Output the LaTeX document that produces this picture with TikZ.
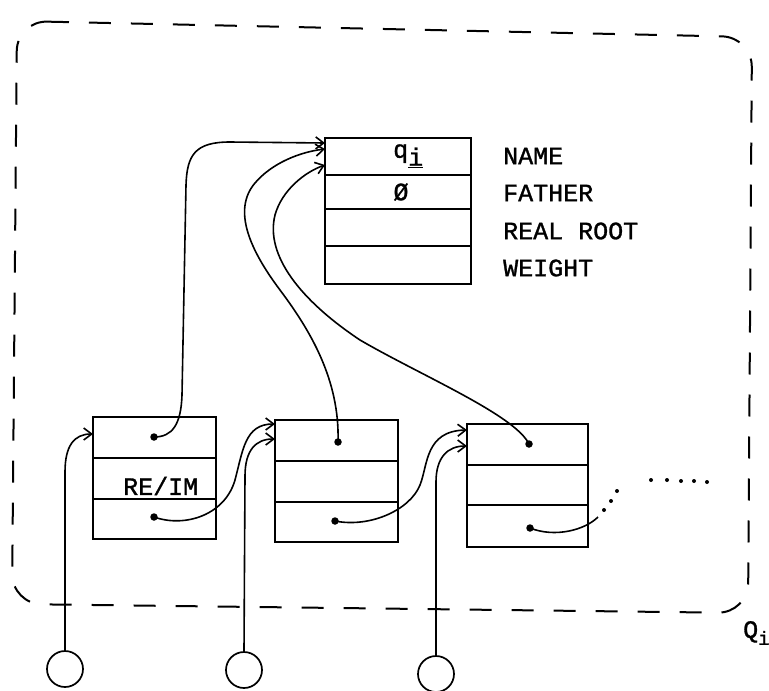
\documentclass[tikz,border=0pt]{standalone}
\usepackage{fontspec}
\setmonofont{Liberation Mono}[FakeBold=1.2]
\usetikzlibrary{arrows.meta,calc}
\begin{document}
\begin{tikzpicture}[x=1pt,y=-1pt,
  rowbox/.style={draw,line width=1.8pt,inner sep=0pt,outer sep=0pt,anchor=north west},
  conn/.style={line width=1.6pt},
  arr/.style={conn,-{Straight Barb[length=8pt,width=12pt]}},
  pdot/.style={circle,fill,inner sep=0pt,minimum size=7.5pt},
  sdot/.style={circle,fill,inner sep=0pt,minimum size=4pt},
  ring/.style={circle,draw,line width=1.7pt,minimum size=36pt,inner sep=0pt},
  lbl/.style={font=\ttfamily\fontsize{25}{30}\selectfont,inner sep=0pt},
  border/.style={line width=2pt,dash pattern=on 22pt off 20pt}]
\useasboundingbox (0,0) rectangle (769,691);

% dashed enclosure Q_i
\draw[border,rounded corners=30pt] (17,21) -- (752,37) -- (748,613) -- (12,604) -- cycle;
\node[lbl,anchor=west] (qlab) at (743,633) {Q\raisebox{-7pt}{\fontsize{19}{22}\selectfont i}};

% top record
\node[rowbox,minimum width=146pt,minimum height=37pt] (t1) at (325,138) {};
\node[rowbox,minimum width=146pt,minimum height=34pt] (t2) at (325,175) {};
\node[rowbox,minimum width=146pt,minimum height=37pt] (t3) at (325,209) {};
\node[rowbox,minimum width=146pt,minimum height=38pt] (t4) at (325,246) {};
\node[lbl,anchor=west] (tq) at (393,156) {q\raisebox{-8pt}{\underline{i}}};
\node[lbl] (tz) at (401,192) {Ø};
\node[lbl,anchor=west] (lname) at (503,156) {NAME};
\node[lbl,anchor=west] (lfather) at (503,193) {FATHER};
\node[lbl,anchor=west] (lroot) at (503,231) {REAL ROOT};
\node[lbl,anchor=west] (lweight) at (503,268) {WEIGHT};

% bottom records
\node[rowbox,minimum width=123pt,minimum height=41pt] (b11) at (93,417) {};
\node[rowbox,minimum width=123pt,minimum height=41pt] (b12) at (93,458) {};
\node[rowbox,minimum width=123pt,minimum height=40pt] (b13) at (93,499) {};
\node[lbl,anchor=west] (reim) at (123,486) {RE/IM};

\node[rowbox,minimum width=123pt,minimum height=41pt] (b21) at (275,420) {};
\node[rowbox,minimum width=123pt,minimum height=41pt] (b22) at (275,461) {};
\node[rowbox,minimum width=123pt,minimum height=40pt] (b23) at (275,502) {};

\node[rowbox,minimum width=121pt,minimum height=41pt] (b31) at (467,424) {};
\node[rowbox,minimum width=121pt,minimum height=40pt] (b32) at (467,465) {};
\node[rowbox,minimum width=121pt,minimum height=42pt] (b33) at (467,505) {};

% pointer dots
\node[pdot] (d11) at (154,437) {};
\node[pdot] (d13) at (154,517) {};
\node[pdot] (d21) at (338,442) {};
\node[pdot] (d23) at (335,521) {};
\node[pdot] (d31) at (529,444) {};
\node[pdot] (d33) at (530,528) {};

% circles
\node[ring] (c1) at (65,669) {};
\node[ring] (c2) at (244,670) {};
\node[ring] (c3) at (436,674) {};

% connectors from circles
\draw[arr] (c1.north) -- (65,472) .. controls (65,446) and (74,434) .. ([yshift=-17pt]b11.north west);
\draw[arr] (c2.north) -- (245,476) .. controls (245,450) and (256,439) .. ([yshift=-19pt]b21.north west);
\draw[arr] (c3.north) -- (436,482) .. controls (436,457) and (448,446) .. ([yshift=-22pt]b31.north west);

% chain links
\draw[arr] (d13.center) .. controls (185,528) and (225,515) .. (235,480) .. controls (243,450) and (245,424) .. ([yshift=-4pt]b21.north west);
\draw[arr] (d23.center) .. controls (370,528) and (410,510) .. (420,485) .. controls (428,465) and (425,431) .. ([yshift=-6pt]b31.north west);
\draw[conn] (d33.center) .. controls (555,538) and (585,530) .. (598,517);
\node[sdot] (e1) at (604,510) {};
\node[sdot] (e2) at (611,501) {};
\node[sdot] (e3) at (617,491) {};
\node[sdot] (f1) at (651,480) {};
\node[sdot] (f2) at (667,480) {};
\node[sdot] (f3) at (681,481) {};
\node[sdot] (f4) at (694,481) {};
\node[sdot] (f5) at (707,482) {};

% links to name record
\draw[arr] (d11.center) .. controls (172,437) and (181,425) .. (182,395) -- (186,185) .. controls (187,155) and (195,142) .. (230,142) -- ([yshift=-5pt]t1.north west);
\draw[arr] (d21.center) .. controls (340,380) and (310,330) .. (280,290) .. controls (250,250) and (232,210) .. (255,183) .. controls (272,163) and (300,152) .. ([yshift=-11pt]t1.north west);
\draw[arr] (d31.center) .. controls (515,415) and (420,375) .. (360,340) .. controls (300,300) and (265,255) .. (275,215) .. controls (282,190) and (305,172) .. ([yshift=-27pt]t1.north west);
\end{tikzpicture}
\end{document}
